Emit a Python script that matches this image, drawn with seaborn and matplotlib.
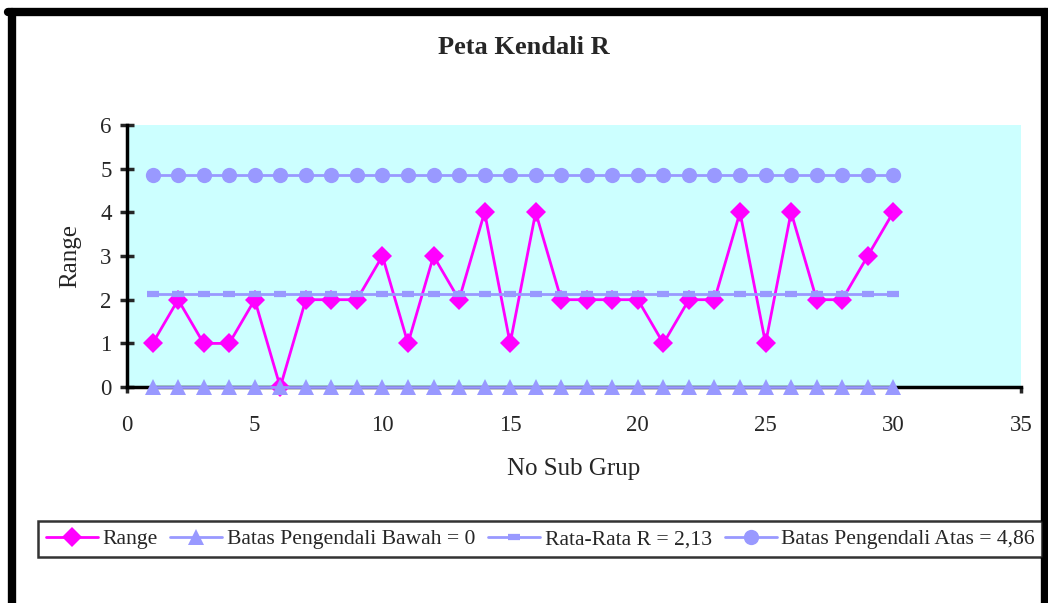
import matplotlib
matplotlib.use("Agg")
import matplotlib.pyplot as plt
import seaborn as sns

## data
sub_grup = list(range(1, 31))
range_vals = [1, 2, 1, 1, 2, 0, 2, 2, 2, 3, 1, 3, 2, 4, 1, 4, 2, 2, 2, 2,
              1, 2, 2, 4, 1, 4, 2, 2, 3, 4]
bpb = [0] * 30
rata_r = [2.13] * 30
bpa = [4.86] * 30

sns.set_theme(style="white")
plt.rcParams['font.family'] = ['Liberation Serif', 'DejaVu Serif']

fig = plt.figure(figsize=(10.48, 6.03), dpi=100)
ax = fig.add_axes([0.1212, 0.358, 0.853, 0.435])
ax.set_facecolor("#CCFFFF")

blue = "#9999FF"
pink = "#FF00FF"
sns.lineplot(x=sub_grup, y=range_vals, ax=ax, color=pink, marker="D",
             markersize=10, markeredgewidth=0, markeredgecolor=pink,
             linewidth=2, label="Range", clip_on=False, zorder=3)
sns.lineplot(x=sub_grup, y=bpb, ax=ax, color=blue, marker="^",
             markersize=12, markeredgewidth=0, markeredgecolor=blue,
             linewidth=2, label="Batas Pengendali Bawah = 0",
             clip_on=False, zorder=4)
sns.lineplot(x=sub_grup, y=rata_r, ax=ax, color=blue, marker="_",
             markersize=8, markeredgewidth=4.5, markeredgecolor=blue,
             linewidth=2, label="Rata-Rata R = 2,13", clip_on=False, zorder=4)
sns.lineplot(x=sub_grup, y=bpa, ax=ax, color=blue, marker="o",
             markersize=11, markeredgewidth=0, markeredgecolor=blue,
             linewidth=2, label="Batas Pengendali Atas = 4,86",
             clip_on=False, zorder=4)

ax.set_xlim(0, 35)
ax.set_ylim(0, 6)
ax.set_xticks(range(0, 36, 5))
ax.set_yticks(range(0, 7))
ax.tick_params(axis="y", direction="inout", length=10, width=2.5,
               labelsize=16.5, left=True, pad=6)
ax.tick_params(axis="x", direction="out", length=4, width=2.5,
               labelsize=16.5, bottom=True, pad=16)
for s in ["top", "right"]:
    ax.spines[s].set_visible(False)
for s in ["left", "bottom"]:
    ax.spines[s].set_color("black")
    ax.spines[s].set_linewidth(2.5)
    ax.spines[s].set_zorder(2.5)

ax.set_xlabel("No Sub Grup", fontsize=18, labelpad=16)
ax.set_ylabel("Range", fontsize=18, labelpad=14)
fig.text(0.5, 0.922, "Peta Kendali R", ha="center", va="center",
         fontsize=19, fontweight="bold")

handles, labels = ax.get_legend_handles_labels()
ax.get_legend().remove()
leg = fig.legend(handles, labels, ncol=4, loc="center",
                 bbox_to_anchor=(0.5155, 0.106), fontsize=15.6,
                 frameon=True, fancybox=False, handlelength=2.4,
                 handletextpad=0.2, columnspacing=0.6, borderpad=0.35,
                 borderaxespad=0)
leg.get_frame().set_edgecolor("black")
leg.get_frame().set_linewidth(1.8)

## thick frame round the figure
fig.add_artist(plt.Line2D([0.0115, 0.0115], [0, 0.98], color="black",
                          linewidth=6, transform=fig.transFigure))
fig.add_artist(plt.Line2D([0.997, 0.997], [0, 0.98], color="black",
                          linewidth=6, transform=fig.transFigure))
fig.add_artist(plt.Line2D([0.0075, 1], [0.98, 0.98], color="black",
                          linewidth=6, transform=fig.transFigure))

fig.savefig("out.png", dpi=100)
